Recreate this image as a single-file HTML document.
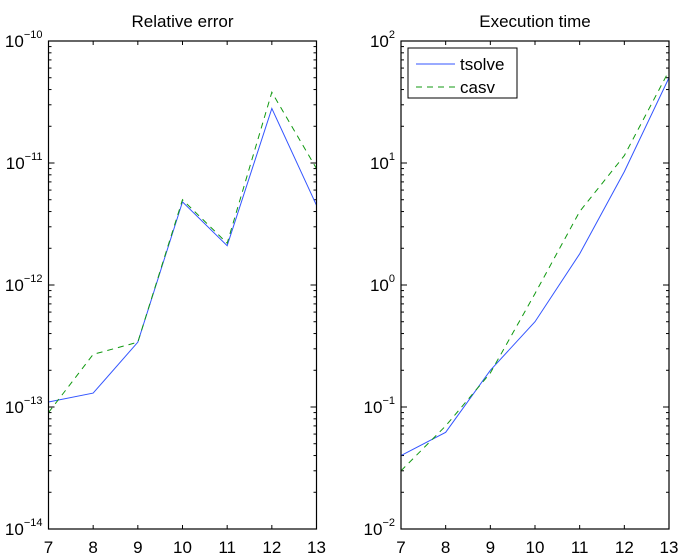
<!DOCTYPE html>
<html><head><meta charset="utf-8"><style>
body{margin:0;background:#fff}
svg{display:block;font-family:"Liberation Sans",sans-serif}
</style></head><body>
<svg id="chart" width="685" height="553" xmlns="http://www.w3.org/2000/svg">
<rect width="685" height="553" fill="#fff"/>
</svg>
<script>
const categories=[7,8,9,10,11,12,13];
const errTsolve=[1.1e-13,1.3e-13,3.4e-13,4.8e-12,2.1e-12,2.8e-11,4.5e-12];
const errCasv=[0.9e-13,2.7e-13,3.4e-13,5.0e-12,2.2e-12,3.8e-11,9e-12];
const timeTsolve=[0.04,0.062,0.2,0.5,1.8,8.5,50];
const timeCasv=[0.03,0.07,0.19,0.85,4,11.5,57];
const errExps=[-14,-13,-12,-11,-10];
const timeExps=[-2,-1,0,1,2];
const xTickLabels=["7","8","9","10","11","12","13"];

const NS="http://www.w3.org/2000/svg";
const svg=document.getElementById('chart');
function mk(t,a,p){const e=document.createElementNS(NS,t);for(const k in a)e.setAttribute(k,a[k]);(p||svg).appendChild(e);return e;}

function panel(name,x0,x1,y0,y1,exps,s1,s2,title){
  const g=mk('g',{});
  
  
  const lo=exps[0],hi=exps[exps.length-1];
  const xs=v=>x0+(v-categories[0])/(categories[categories.length-1]-categories[0])*(x1-x0);
  const ys=v=>y1-(Math.log10(v)-lo)/(hi-lo)*(y1-y0);
  const t=mk('text',{x:(x0+x1)/2,y:27,'text-anchor':'middle','font-size':'17'},g);
  t.textContent=title;
  
  
  // ticks
  categories.forEach((c,i)=>{
    const x=xs(c);
    mk('line',{x1:x,x2:x,y1:y1,y2:y1-4,stroke:'#000','stroke-width':1},g);
    mk('line',{x1:x,x2:x,y1:y0,y2:y0+4,stroke:'#000','stroke-width':1},g);
    const l=mk('text',{x:x,y:y1+24,'text-anchor':'middle','font-size':'17'},g);
    l.textContent=xTickLabels[i];
    
    
  });
  for(let e=lo;e<=hi;e++){
    for(let m=1;m<=9;m++){
      if(e===hi&&m>1)break;
      const y=ys(m*Math.pow(10,e));
      const len=m===1?6:3;
      mk('line',{x1:x0,x2:x0+len,y1:y,y2:y,stroke:'#000','stroke-width':1},g);
      mk('line',{x1:x1,x2:x1-len,y1:y,y2:y,stroke:'#000','stroke-width':1},g);
    }
    const y=ys(Math.pow(10,e));
    const l=mk('text',{x:x0-6,y:y+6,'text-anchor':'end','font-size':'17'},g);
    
    
    const b=mk('tspan',{},l);b.textContent='10';
    const s=mk('tspan',{dy:'-9','font-size':'11'},l);s.textContent=(e<0?'\u2212'+(-e):''+e);
  }
  const mkLine=(vals,color,dash,nm)=>{
    const p=mk('polyline',{points:vals.map((v,i)=>xs(categories[i])+','+ys(v)).join(' '),fill:'none',stroke:color,'stroke-width':1,'stroke-dasharray':dash},g);
    
    
  };
  mkLine(s1,'#3355ff','none',name+'-tsolve-line');
  mkLine(s2,'#109910','6,5',name+'-casv-line');
  const r=mk('rect',{x:x0,y:y0,width:x1-x0,height:y1-y0,fill:'none',stroke:'#000','stroke-width':1.2},g);
  
  
}
panel('relative-error-panel',48.5,316.5,41,529,errExps,errTsolve,errCasv,'Relative error');
panel('execution-time-panel',401,669,41,529,timeExps,timeTsolve,timeCasv,'Execution time');

const lg=mk('g',{});


mk('rect',{x:408,y:48,width:109,height:50,fill:'#fff',stroke:'#000','stroke-width':1},lg);
mk('line',{x1:416,x2:455,y1:64,y2:64,stroke:'#3355ff','stroke-width':1},lg);
mk('line',{x1:416,x2:455,y1:87,y2:87,stroke:'#109910','stroke-width':1,'stroke-dasharray':'6,5'},lg);
const t1=mk('text',{x:460,y:70,'font-size':'17'},lg);t1.textContent='tsolve';


const t2=mk('text',{x:460,y:93,'font-size':'17'},lg);t2.textContent='casv';


</script>
</body></html>
